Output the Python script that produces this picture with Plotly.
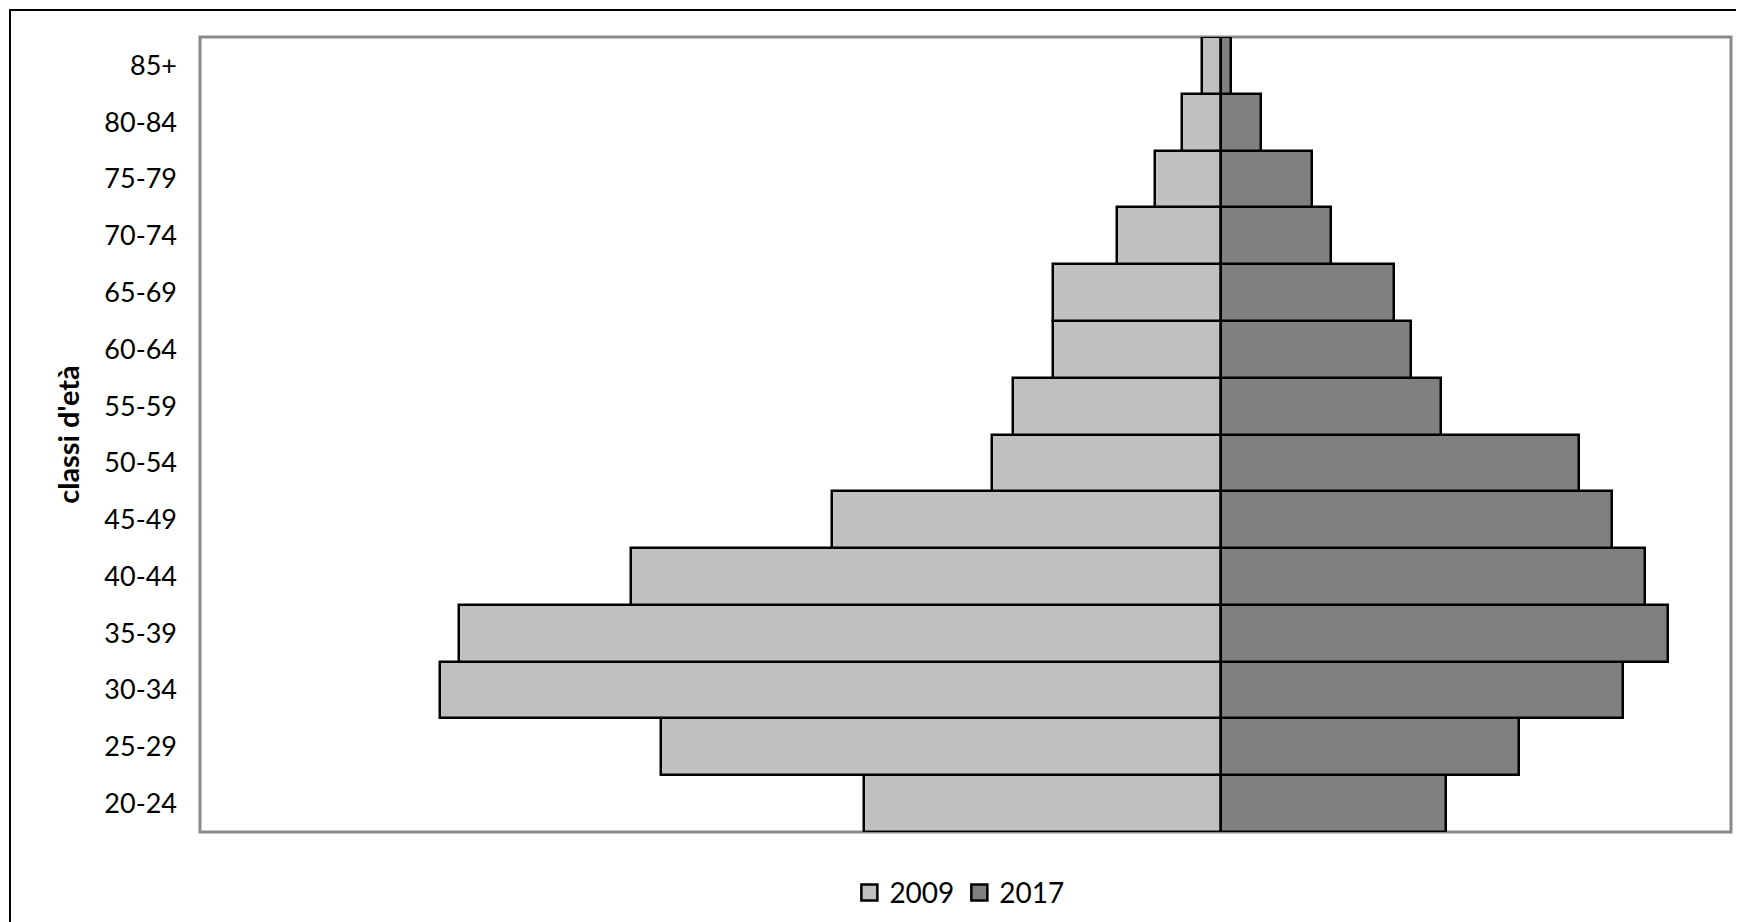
import plotly.graph_objects as go

categories = ["20-24", "25-29", "30-34", "35-39", "40-44", "45-49", "50-54",
              "55-59", "60-64", "65-69", "70-74", "75-79", "80-84", "85+"]
values_2009 = [349, 548, 765, 746, 578, 381, 224, 203, 164, 164, 102, 64, 38, 18.5]
values_2017 = [221, 292, 394, 438, 416, 383, 351, 216, 186, 170, 108, 89, 40, 10]
series_names = ["2009", "2017"]
series_colors = ["#c0c0c0", "#808080"]

FONT = "Lato, Open Sans, sans-serif"

fig = go.Figure()
fig.add_trace(go.Bar(
    y=categories, x=[-v for v in values_2009], name=series_names[0], orientation="h",
    marker=dict(color=series_colors[0], line=dict(color="black", width=2.5)),
    showlegend=False,
))
fig.add_trace(go.Bar(
    y=categories, x=values_2017, name=series_names[1], orientation="h",
    marker=dict(color=series_colors[1], line=dict(color="black", width=2.5)),
    showlegend=False,
))
# legend entries with larger square symbols
for name, color in zip(series_names, series_colors):
    fig.add_trace(go.Scatter(
        x=[None], y=[None], mode="markers", name=name,
        marker=dict(symbol="square", size=16, color=color, line=dict(color="black", width=2.5)),
    ))

# page body has an 8px default margin; compensate
fig.update_layout(
    width=1736, height=914,
    barmode="relative", bargap=0,
    paper_bgcolor="white", plot_bgcolor="white",
    margin=dict(l=192, r=13, t=29, b=90, autoexpand=False),
    font=dict(family=FONT, size=27, color="black"),
    showlegend=True,
    legend=dict(orientation="h", x=0.496, xanchor="center", yref="container", y=0.032,
                yanchor="middle", font=dict(size=28), itemwidth=30, traceorder="normal"),
    xaxis=dict(range=[-1000, 500], showticklabels=False, showgrid=False,
               zeroline=False, showline=False, ticks=""),
    yaxis=dict(showgrid=False, zeroline=False, showline=False, ticks="",
               ticklabelstandoff=22,
               title=dict(text="<b>classi d'età</b>", font=dict(size=29), standoff=16)),
    shapes=[
        dict(type="rect", xref="paper", yref="paper", x0=0, x1=1, y0=0, y1=1,
             line=dict(color="#8a8a8a", width=3), layer="below"),
        dict(type="rect", xref="paper", yref="paper", x0=-0.1241, x1=1.05, y0=-0.2, y1=1.034,
             line=dict(color="black", width=2), layer="below"),
    ],
)

fig.write_html("out.html")
